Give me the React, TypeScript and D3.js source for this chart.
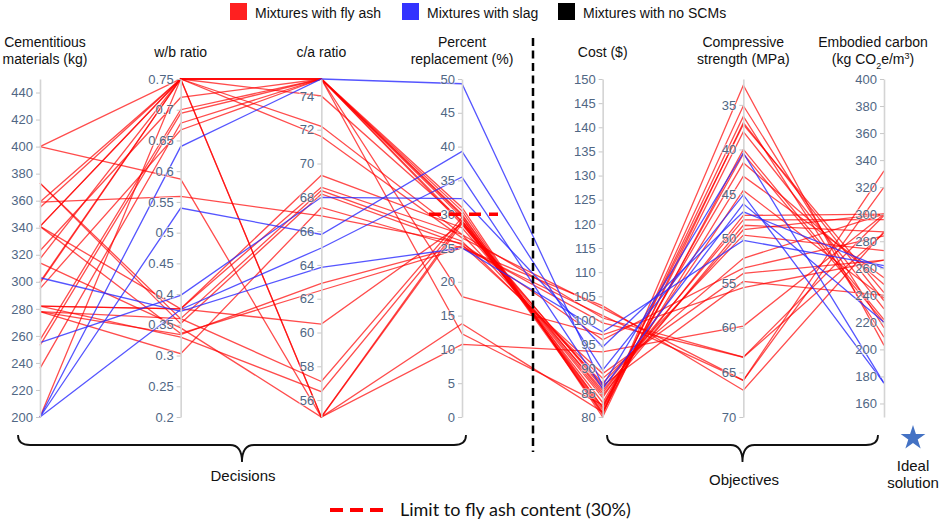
import { useEffect, useRef } from "react";
import * as d3 from "d3";

const W = 941;
const H = 521;

// parallel axes
const dimensions = ["cem", "wb", "ca", "pct", "cost", "comp", "emb"];
const dimTitles = [
  ["Cementitious", "materials (kg)"],
  ["w/b ratio"],
  ["c/a ratio"],
  ["Percent", "replacement (%)"],
  ["Cost ($)"],
  ["Compressive", "strength (MPa)"],
  ["Embodied carbon", "(kg CO|2|e/m|3|)"],
];
const dimDomains: [number, number][] = [
  [200, 450],
  [0.2, 0.75],
  [55, 75],
  [0, 50],
  [80, 150],
  [70, 32.1],
  [150, 400],
];
const cemTicks = [200, 220, 240, 260, 280, 300, 320, 340, 360, 380, 400, 420, 440];
const wbTicks = [0.2, 0.25, 0.3, 0.35, 0.4, 0.45, 0.5, 0.55, 0.6, 0.65, 0.7, 0.75];
const caTicks = [56, 58, 60, 62, 64, 66, 68, 70, 72, 74];
const pctTicks = [0, 5, 10, 15, 20, 25, 30, 35, 40, 45, 50];
const costTicks = [80, 85, 90, 95, 100, 105, 110, 115, 120, 125, 130, 135, 140, 145, 150];
const compTicks = [35, 40, 45, 50, 55, 60, 65, 70];
const embTicks = [160, 180, 200, 220, 240, 260, 280, 300, 320, 340, 360, 380, 400];
const dimTicks = [cemTicks, wbTicks, caTicks, pctTicks, costTicks, compTicks, embTicks];

// mixtures: [cem, w/b, c/a, percent, cost, strength, carbon]
const flyAshMixes = [
  [400, 0.75, 75, 30.5, 80.5, 32.8, 203],
  [359, 0.75, 75, 30.0, 81, 35.1, 216],
  [355, 0.75, 75, 29.5, 81.5, 36.3, 209],
  [299, 0.75, 75, 31.0, 80, 37.0, 236],
  [323, 0.72, 75, 29.8, 82, 37.2, 242],
  [257, 0.7, 75, 28.8, 83, 41.5, 248],
  [253, 0.694, 75, 17.8, 97, 55.5, 266],
  [236, 0.678, 75, 12.3, 82.5, 43.0, 253],
  [295, 0.667, 75, 28.5, 84, 44.6, 238],
  [341, 0.75, 74, 29, 85, 47.4, 300],
  [200, 0.75, 72.2, 27, 100.5, 63.3, 299],
  [300, 0.75, 71.6, 26.5, 102.5, 65.9, 332],
  [341, 0.75, 55, 29, 86, 47.9, 296],
  [314, 0.345, 55, 28.6, 84.5, 48.5, 287],
  [400, 0.587, 55, 13.8, 81, 40.0, 222],
  [317, 0.75, 55, 10.75, 93.5, 59.8, 300],
  [341, 0.376, 69.3, 28, 85.5, 49.0, 300],
  [282, 0.376, 68.6, 27, 87, 49.6, 273],
  [278, 0.36, 68.4, 26, 88, 52.2, 300],
  [373, 0.352, 68.2, 25.5, 89, 53.9, 266],
  [282, 0.376, 60.5, 28.6, 86.5, 54.8, 240],
  [278, 0.334, 62.9, 25.3, 99.5, 63.3, 286],
  [278, 0.303, 67.4, 25, 103, 67.0, 287],
  [359, 0.559, 66.9, 25.7, 96, 53.3, 284],
  [341, 0.336, 62.5, 25, 101, 65.9, 320],
  [373, 0.36, 57.1, 29.5, 80.8, 38, 230],
  [282, 0.33, 56.5, 29, 82, 40.5, 220],
];
const slagMixes = [
  [200, 0.64, 75, 49.3, 86.5, 40.4, 175],
  [200, 0.54, 65.8, 39.3, 89.7, 45.1, 175],
  [200, 0.375, 65.0, 35.5, 85.9, 46.1, 220],
  [255, 0.398, 68, 32.3, 94.5, 47.0, 260],
  [303, 0.372, 63.85, 25, 97.6, 50.2, 262],
];

const flyAshLimit = 30;

const legendItems = [
  { label: "Mixtures with fly ash", color: "#ff2020", x: 230 },
  { label: "Mixtures with slag", color: "#3333ff", x: 402 },
  { label: "Mixtures with no SCMs", color: "#000000", x: 558 },
];

const FONT = "'Liberation Sans', Arial, sans-serif";

export default function App() {
  const ref = useRef<SVGSVGElement>(null);

  useEffect(() => {
    if (!ref.current) return;
    const svg = d3.select(ref.current);
    svg.selectAll("*").remove();

    const top = 79;
    const bottom = 417;
    const x = d3.scalePoint<string>().domain(dimensions).range([40, 884]);
    const ys = dimDomains.map((d) => d3.scaleLinear().domain(d).range([bottom, top]));
    const line = d3
      .line<number>()
      .x((_, i) => x(dimensions[i])!)
      .y((v, i) => ys[i](v));

    svg.append("rect").attr("width", W).attr("height", H).attr("fill", "#fff");

    // polylines
    const gl = svg.append("g").attr("fill", "none");
    gl.selectAll("path.fa")
      .data(flyAshMixes)
      .join("path")
      .attr("class", "fa")
      .attr("d", (d) => line(d))
      .attr("stroke", "#ff0000")
      .attr("stroke-opacity", 0.7)
      .attr("stroke-width", 1.3);
    gl.selectAll("path.sl")
      .data(slagMixes)
      .join("path")
      .attr("class", "sl")
      .attr("d", (d) => line(d))
      .attr("stroke", "#2a2aff")
      .attr("stroke-opacity", 0.8)
      .attr("stroke-width", 1.3);

    // axes
    dimensions.forEach((k, i) => {
      const g = svg.append("g").attr("transform", `translate(${x(k)},0)`);
      g.call(
        d3.axisLeft(ys[i]).tickValues(dimTicks[i]).tickSize(4).tickSizeOuter(0).tickPadding(3).tickFormat(d3.format("~g") as any)
      );
      g.select(".domain").attr("stroke", "#d4d4d4").attr("stroke-width", 1.6);
      g.selectAll(".tick line").attr("stroke", "#c8c8c8");
      g.selectAll(".tick text")
        .attr("fill", "#506784")
        .attr("font-size", 13)
        .attr("font-family", FONT)
        .attr("stroke", "#fff")
        .attr("stroke-width", 2)
        .attr("stroke-opacity", 0.45)
        .attr("paint-order", "stroke");

      const title = dimTitles[i];
      const tx = i === 0 ? 45 : i === 6 ? 873 : x(k)!;
      const t = svg
        .append("text")
        .attr("x", tx)
        .attr("text-anchor", "middle")
        .attr("font-family", FONT)
        .attr("font-size", 14)
        .attr("fill", "#111");
      const baselines = title.length === 1 ? [57] : [47, 64];
      title.forEach((s, j) => {
        if (s.includes("|")) {
          const parts = s.split("|");
          const ts = t.append("tspan").attr("x", tx).attr("y", baselines[j]);
          parts.forEach((p, pi) => {
            if (pi % 2 === 0) ts.append("tspan").text(p);
            else
              ts.append("tspan")
                .attr("font-size", 9)
                .attr("baseline-shift", pi === 1 ? "sub" : "super")
                .text(p);
          });
        } else {
          t.append("tspan").attr("x", tx).attr("y", baselines[j]).text(s);
        }
      });
    });

    // fly ash limit marker on percent axis
    const py = ys[3](flyAshLimit);
    svg.append("line")
      .attr("x1", x("pct")! - 33)
      .attr("x2", x("pct")! + 36)
      .attr("y1", py)
      .attr("y2", py)
      .attr("stroke", "#ff0000")
      .attr("stroke-width", 3.5)
      .attr("stroke-dasharray", "12,8");

    // decisions / objectives separator
    svg.append("line")
      .attr("x1", 533)
      .attr("x2", 533)
      .attr("y1", 38)
      .attr("y2", 452)
      .attr("stroke", "#000")
      .attr("stroke-width", 2.5)
      .attr("stroke-dasharray", "8,4.5");

    // legend
    const lg = svg.append("g").attr("font-family", FONT).attr("font-size", 14);
    legendItems.forEach((it) => {
      lg.append("rect").attr("x", it.x).attr("y", 3).attr("width", 17).attr("height", 17).attr("fill", it.color);
      lg.append("text").attr("x", it.x + 25).attr("y", 18).attr("fill", "#111").text(it.label);
    });

    // braces
    const brace = (x0: number, x1: number) => {
      const mid = (x0 + x1) / 2;
      const y0 = 435, y1 = 445, yt = 462;
      return `M${x0},${y0} Q${x0},${y1} ${x0 + 12},${y1} H${mid - 12} Q${mid},${y1} ${mid},${yt}` +
        ` M${mid},${yt} Q${mid},${y1} ${mid + 12},${y1} H${x1 - 12} Q${x1},${y1} ${x1},${y0}`;
    };
    svg.append("path").attr("d", brace(18, 466)).attr("fill", "none").attr("stroke", "#111").attr("stroke-width", 1.8);
    svg.append("path").attr("d", brace(607, 878)).attr("fill", "none").attr("stroke", "#111").attr("stroke-width", 1.8);

    const labels = [
      { t: "Decisions", x: 243, y: 481 },
      { t: "Objectives", x: 744, y: 485 },
      { t: "Ideal", x: 913, y: 471 },
      { t: "solution", x: 913, y: 488 },
    ];
    svg.selectAll("text.lab")
      .data(labels)
      .join("text")
      .attr("class", "lab")
      .attr("x", (d) => d.x)
      .attr("y", (d) => d.y)
      .attr("text-anchor", "middle")
      .attr("font-family", FONT)
      .attr("font-size", 15)
      .attr("fill", "#111")
      .text((d) => d.t);

    svg.append("path")
      .attr("d", d3.symbol(d3.symbolStar, 190)())
      .attr("transform", "translate(913,438)")
      .attr("fill", "#4472c4");

    // bottom legend
    svg.append("line")
      .attr("x1", 330)
      .attr("x2", 383)
      .attr("y1", 510)
      .attr("y2", 510)
      .attr("stroke", "#ff0000")
      .attr("stroke-width", 4)
      .attr("stroke-dasharray", "13,7");
    svg.append("text")
      .attr("x", 400)
      .attr("y", 516)
      .attr("font-family", "Lato, 'Open Sans', sans-serif")
      .attr("font-size", 18)
      .attr("fill", "#111")
      .text("Limit to fly ash content (30%)");
  }, []);

  return (
    <svg
      ref={ref}
      width={W}
      height={H}
      style={{ position: "absolute", left: 0, top: 0, display: "block" }}
    />
  );
}
